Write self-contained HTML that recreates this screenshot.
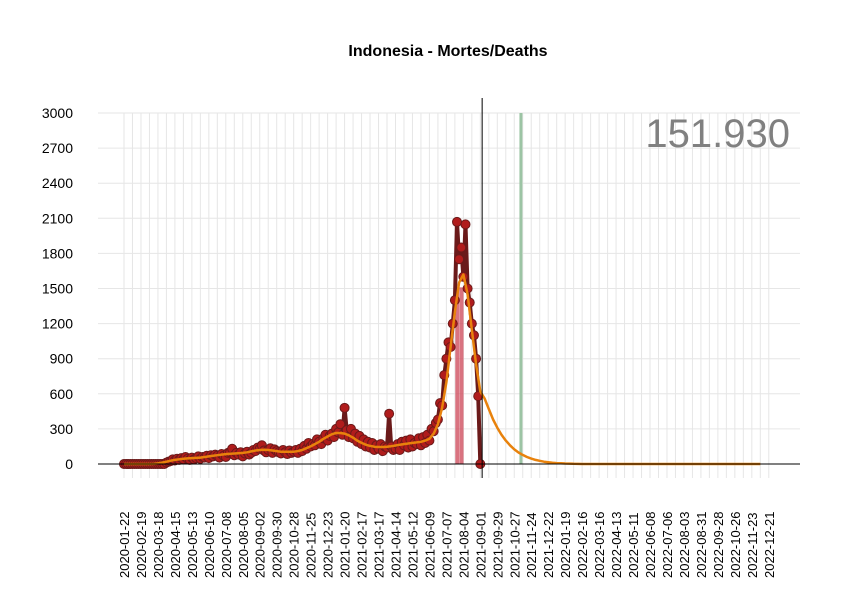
<!DOCTYPE html>
<html><head><meta charset="utf-8"><style>
body{margin:0;background:#fff;}
svg{display:block;font-family:"Liberation Sans",Arial,sans-serif;}
</style></head><body>
<svg id="chart" width="850" height="600">
<rect width="850" height="600" fill="#fff"/>
<text x="448" y="56" text-anchor="middle" font-size="16" font-weight="bold">Indonesia - Mortes/Deaths</text>
<g id="grid"></g><g id="marks"></g><g id="axes"></g>
<text x="790" y="147" text-anchor="end" font-size="40" fill="#808080">151.930</text>
</svg>
<script>
// Weekly smoothed trend (from 2020-01-22), incl. projection
const smoothWeekly=[0,0,0,0,0,0,0,1,5,12,20,28,35,40,45,48,50,52,55,60,65,70,75,80,85,88,90,92,95,100,108,115,120,122,120,115,110,105,105,105,105,110,120,135,150,170,190,215,235,255,265,265,260,245,225,200,180,165,155,148,145,145,148,152,158,165,170,175,180,185,190,200,215,260,340,480,700,1000,1300,1550,1620,1450,1150,850,620,560,470,380,310,250,200,160,125,98,78,60,46,35,27,20,15,11,8,6,4,3,2,1,0,0,0,0,0,0,0,0,0,0,0,0,0,0,0,0,0,0,0,0,0,0,0,0,0,0,0,0,0,0,0,0,0,0,0,0,0,0,0,0,0,0,0];
// Observed daily deaths, sampled every 3.5 days from 2020-01-22
const observed=[0,0,0,0,0,0,0,0,0,0,0,0,0,0,0,0,0,0,0,0,12,20,25,40,30,45,35,50,40,60,45,35,55,40,50,65,45,60,55,70,50,75,65,80,70,55,85,70,60,95,100,130,75,95,80,100,65,90,105,80,95,120,110,140,130,160,115,100,120,135,95,125,110,100,90,120,100,85,115,95,105,120,95,130,110,155,130,180,150,170,160,210,190,170,220,250,200,240,260,230,300,270,340,250,480,290,230,300,220,260,190,240,170,210,150,190,140,180,120,160,130,170,110,150,140,430,150,120,130,170,120,190,160,200,140,210,150,180,170,220,160,230,180,250,200,300,280,350,380,520,500,760,900,1040,1000,1200,1400,2069,1750,1850,1600,2048,1500,1380,1200,1100,900,580,0];
const highlightDays=[550,557];
const highlightValues=[1510,1510];
const markerDay=[591];
const projDay=[655];
const yTicks=[0,300,600,900,1200,1500,1800,2100,2400,2700,3000];

const NS="http://www.w3.org/2000/svg";
const x0=124,pxDay=0.606,y0=464,pxVal=351/3000;
const X=d=>x0+d*pxDay, Y=v=>y0-v*pxVal;
function el(tag,attrs,parent){const e=document.createElementNS(NS,tag);for(const k in attrs)e.setAttribute(k,attrs[k]);parent.appendChild(e);return e;}
const grid=document.getElementById('grid'),marks=document.getElementById('marks'),axes=document.getElementById('axes');
const start=Date.UTC(2020,0,22);
function fmt(d){const t=new Date(start+d*86400000);return t.toISOString().slice(0,10);}
for(let d=0;d<=1064;d+=14){const g=el('line',{x1:X(d),x2:X(d),y1:113,y2:478,stroke:'#e6e6e6','stroke-width':1},grid);
}
yTicks.forEach(v=>{const g=el('line',{x1:98,x2:800,y1:Y(v),y2:Y(v),stroke:'#e6e6e6','stroke-width':1},grid);

const t=el('text',{x:73,y:Y(v)+5,'text-anchor':'end','font-size':14},axes);t.textContent=v;
});
for(let d=0;d<=1064;d+=28){const t=el('text',{transform:`translate(${X(d)+5},${578}) rotate(-90)`,'font-size':13},axes);t.textContent=fmt(d);
}
// projection line
const pl=el('line',{x1:X(projDay[0]),x2:X(projDay[0]),y1:Y(3000),y2:Y(0),stroke:'#9cc4a4','stroke-width':3},marks);

// highlight bars
highlightDays.forEach((d,i)=>{const r=el('rect',{x:X(d)-2,y:Y(highlightValues[i]),width:4,height:Y(0)-Y(highlightValues[i]),fill:'#d05060',opacity:0.8},marks);
});
// observed connecting band
let p='';observed.forEach((v,i)=>{p+=(i?'L':'M')+X(i*3.5).toFixed(1)+','+Y(v).toFixed(1);});
const ob=el('path',{d:p,fill:'none',stroke:'#6b1a1a','stroke-width':4,'stroke-linejoin':'round','stroke-linecap':'round'},marks);

const ol=el('path',{d:p,fill:'none',stroke:'#6b1a1a','stroke-width':1.2},marks);

observed.forEach((v,i)=>{const c=el('circle',{cx:X(i*3.5),cy:Y(v),r:4.5,fill:'#b01c1c',stroke:'#6b1a1a','stroke-width':1},marks);
});
// smooth
let s='';smoothWeekly.forEach((v,i)=>{s+=(i?'L':'M')+X(i*7).toFixed(1)+','+Y(v).toFixed(1);});
const sl=el('path',{d:s,fill:'none',stroke:'#e8820c','stroke-width':2.5,'stroke-linejoin':'round'},marks);

// axes
const xa=el('line',{x1:98,x2:800,y1:Y(0),y2:Y(0),stroke:'#000','stroke-width':1},axes);

const ml=el('line',{x1:X(markerDay[0]),x2:X(markerDay[0]),y1:98,y2:478,stroke:'#000','stroke-width':1},axes);

</script>
</body></html>
